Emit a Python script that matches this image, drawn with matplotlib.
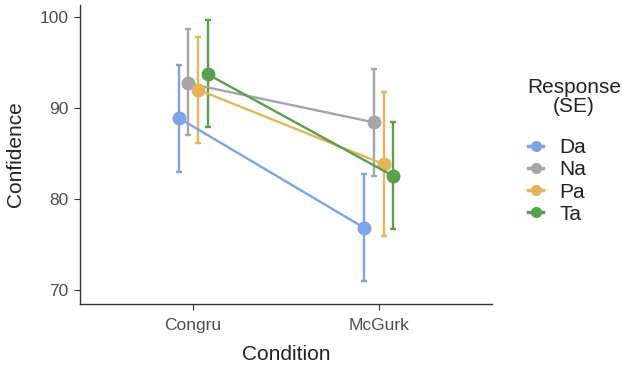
import matplotlib.pyplot as plt
from matplotlib.lines import Line2D
import numpy as np

plt.rcParams["font.family"] = ["Liberation Sans", "DejaVu Sans"]

conditions = ["Congru", "McGurk"]
responses = ["Da", "Na", "Pa", "Ta"]
means = {
    "Da": [88.9, 76.8],
    "Na": [92.7, 88.4],
    "Pa": [92.0, 83.8],
    "Ta": [93.7, 82.5],
}
upper = {
    "Da": [94.7, 82.7],
    "Na": [98.7, 94.3],
    "Pa": [97.8, 91.7],
    "Ta": [99.7, 88.5],
}
lower = {
    "Da": [83.0, 71.0],
    "Na": [87.0, 82.5],
    "Pa": [86.1, 75.9],
    "Ta": [87.9, 76.7],
}
colors = {"Da": "#7ba4e6", "Na": "#a5a5a5", "Pa": "#e6b55b", "Ta": "#58a04c"}

fig = plt.figure(figsize=(6.22, 3.66), dpi=100)
ax = fig.add_axes([80 / 622, 62 / 366, 412 / 622, 299 / 366])

x = np.arange(1, len(conditions) + 1)
offsets = np.array([-14.5, -5, 5, 14.5]) / 186
for i, r in enumerate(responses):
    xs = x + offsets[i]
    m = np.array(means[r])
    yerr = [m - np.array(lower[r]), np.array(upper[r]) - m]
    ax.errorbar(xs, m, yerr=yerr, color=colors[r], lw=1.7, marker="o", ms=9,
                capsize=2, capthick=1.7, elinewidth=1.7)

ax.set_xlim(0.392, 2.608)
ax.set_ylim(68.45, 101.3)
ax.set_xticks(x)
ax.set_xticklabels(conditions)
ax.set_yticks([70, 80, 90, 100])
ax.tick_params(labelsize=12.5, color="#333333", labelcolor="#4d4d4d", length=4)
ax.tick_params(axis="x", pad=6)
ax.tick_params(axis="y", pad=4.5)
ax.set_xlabel("Condition", fontsize=15, color="#222222", labelpad=9)
ax.set_ylabel("Confidence", fontsize=15, color="#222222", labelpad=10)
for s in ["top", "right"]:
    ax.spines[s].set_visible(False)
for s in ["left", "bottom"]:
    ax.spines[s].set_color("#333333")
    ax.spines[s].set_linewidth(1)

# legend title drawn separately so the gap under it matches
fig.text(574 / 622, 1 - 97 / 366, "Response\n(SE)", ha="center", va="center",
         fontsize=15, color="#222222", multialignment="center", linespacing=1.0)
handles = [Line2D([], [], color=colors[r], lw=2.5, marker="o", ms=7) for r in responses]
leg = fig.legend(handles, responses, loc="center left",
                 bbox_to_anchor=(528 / 622, 1 - 181 / 366), frameon=False,
                 fontsize=15, handlelength=0.72, labelspacing=0.15,
                 handletextpad=0.8, borderaxespad=0, borderpad=0)
for t in leg.get_texts():
    t.set_color("#222222")

fig.savefig("out.png", dpi=100)
